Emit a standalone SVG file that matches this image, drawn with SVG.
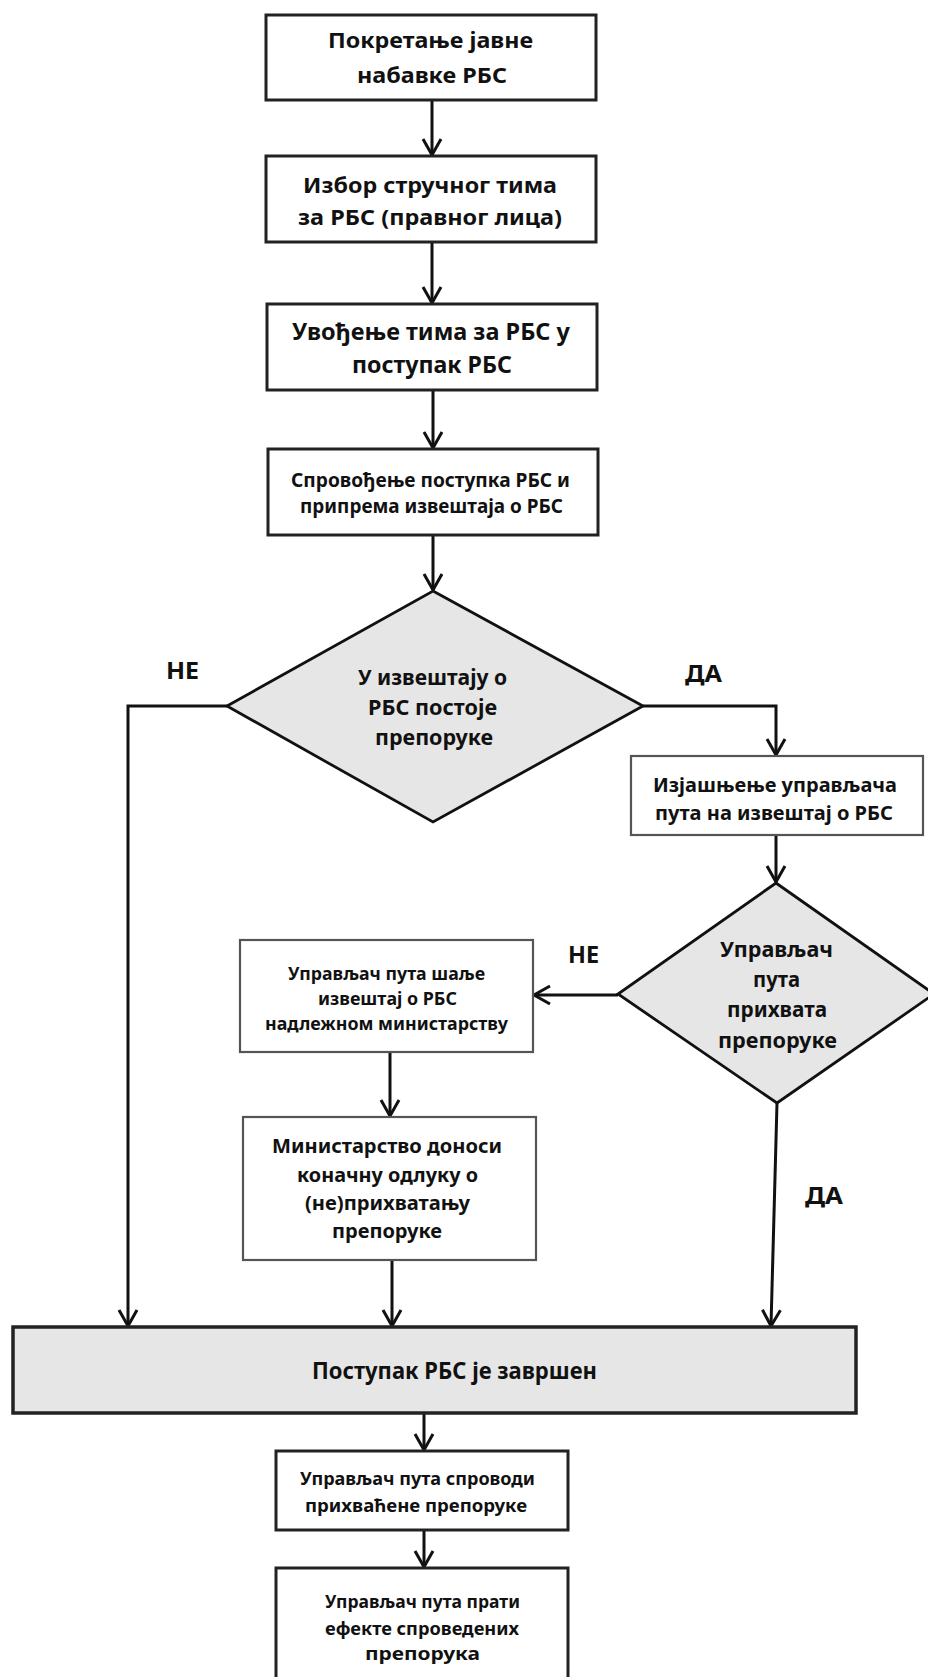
<svg xmlns="http://www.w3.org/2000/svg" width="928" height="1677" viewBox="0 0 928 1677">
<style>
.box{fill:#ffffff;stroke:#222222;stroke-width:3}
.boxl{fill:#ffffff;stroke:#555555;stroke-width:2.2}
.dia{fill:#e6e6e6;stroke:#111111;stroke-width:2.8;stroke-linejoin:miter}
.big{fill:#e6e6e6;stroke:#222222;stroke-width:3.5}
.con{fill:none;stroke:#111111;stroke-width:3;marker-end:url(#arr)}
text{font-family:"Noto Sans","Open Sans","DejaVu Sans",sans-serif;font-weight:bold;fill:#111111;text-anchor:middle}
</style>
<defs>
<marker id="arr" markerUnits="userSpaceOnUse" markerWidth="24" markerHeight="24" viewBox="-20 -12 24 24" refX="0" refY="0" orient="auto">
<path d="M-16,-9 L0,0 L-16,9" fill="none" stroke="#111111" stroke-width="3"/>
</marker>
</defs>
<rect width="928" height="1677" fill="#ffffff"/>
<g id="connectors">
<path class="con" d="M432,100 L432,155"/>
<path class="con" d="M432,242 L432,303"/>
<path class="con" d="M433,390 L433,448"/>
<path class="con" d="M433,535 L433,590"/>
<path class="con" d="M227,706 L128,706 L128,1326"/>
<path class="con" d="M643,706 L776,706 L776,755"/>
<path class="con" d="M776,835 L776,882"/>
<path class="con" d="M618,995 L534,995"/>
<path class="con" d="M777,1103 L771,1326"/>
<path class="con" d="M390,1052 L390,1116"/>
<path class="con" d="M392,1260 L392,1326"/>
<path class="con" d="M424,1413 L424,1450"/>
<path class="con" d="M424,1530 L424,1567"/>
</g>
<g id="n1">
<rect class="box" x="266" y="15" width="330" height="85"/>
<text x="430.5" y="48" font-size="22" textLength="205" lengthAdjust="spacingAndGlyphs">Покретање јавне</text>
<text x="432" y="83" font-size="22" textLength="150" lengthAdjust="spacingAndGlyphs">набавке РБС</text>
</g>
<g id="n2">
<rect class="box" x="266" y="156" width="330" height="86"/>
<text x="430" y="193" font-size="22" textLength="254" lengthAdjust="spacingAndGlyphs">Избор стручног тима</text>
<text x="430" y="225" font-size="22" textLength="264" lengthAdjust="spacingAndGlyphs">за РБС (правног лица)</text>
</g>
<g id="n3">
<rect class="box" x="267" y="304" width="330" height="86"/>
<text x="431" y="340" font-size="23" textLength="278" lengthAdjust="spacingAndGlyphs">Увођење тима за РБС у</text>
<text x="432" y="373" font-size="23" textLength="160" lengthAdjust="spacingAndGlyphs">поступак РБС</text>
</g>
<g id="n4">
<rect class="box" x="268" y="449" width="330" height="86"/>
<text x="430.5" y="487" font-size="19" textLength="279" lengthAdjust="spacingAndGlyphs">Спровођење поступка РБС и</text>
<text x="431.5" y="513" font-size="19" textLength="263" lengthAdjust="spacingAndGlyphs">припрема извештаја о РБС</text>
</g>
<g id="d1">
<polygon class="dia" points="433,591 643,706 433,822 227,706"/>
<text x="432.5" y="685" font-size="21" textLength="149" lengthAdjust="spacingAndGlyphs">У извештају о</text>
<text x="432.5" y="715" font-size="21" textLength="129" lengthAdjust="spacingAndGlyphs">РБС постоје</text>
<text x="434" y="745" font-size="21" textLength="118" lengthAdjust="spacingAndGlyphs">препоруке</text>
</g>
<g id="n5">
<rect class="boxl" x="631" y="756" width="292" height="79"/>
<text x="775" y="792" font-size="20" textLength="244" lengthAdjust="spacingAndGlyphs">Изјашњење управљача</text>
<text x="774" y="820" font-size="20" textLength="238" lengthAdjust="spacingAndGlyphs">пута на извештај о РБС</text>
</g>
<g id="d2">
<polygon class="dia" points="776,883 934,994 777,1103 618,994"/>
<text x="776.5" y="957" font-size="21" textLength="113" lengthAdjust="spacingAndGlyphs">Управљач</text>
<text x="776.5" y="987" font-size="21" textLength="47" lengthAdjust="spacingAndGlyphs">пута</text>
<text x="777" y="1017" font-size="21" textLength="100" lengthAdjust="spacingAndGlyphs">прихвата</text>
<text x="777.5" y="1048" font-size="21" textLength="119" lengthAdjust="spacingAndGlyphs">препоруке</text>
</g>
<g id="n6">
<rect class="boxl" x="240" y="940" width="293" height="112"/>
<text x="386.5" y="980" font-size="18" textLength="197" lengthAdjust="spacingAndGlyphs">Управљач  пута шаље</text>
<text x="387.5" y="1005" font-size="18" textLength="139" lengthAdjust="spacingAndGlyphs">извештај о РБС</text>
<text x="386.5" y="1030" font-size="18" textLength="243" lengthAdjust="spacingAndGlyphs">надлежном министарству</text>
</g>
<g id="n7">
<rect class="boxl" x="243" y="1117" width="293" height="143"/>
<text x="387" y="1153" font-size="20" textLength="230" lengthAdjust="spacingAndGlyphs">Министарство доноси</text>
<text x="387.5" y="1182" font-size="20" textLength="181" lengthAdjust="spacingAndGlyphs">коначну одлуку о</text>
<text x="387.5" y="1210" font-size="20" textLength="165" lengthAdjust="spacingAndGlyphs">(не)прихватању</text>
<text x="387" y="1238" font-size="20" textLength="110" lengthAdjust="spacingAndGlyphs">препоруке</text>
</g>
<g id="n8">
<rect class="big" x="13" y="1327" width="843" height="86"/>
<text x="454.5" y="1379" font-size="23" textLength="285" lengthAdjust="spacingAndGlyphs">Поступак РБС је завршен</text>
</g>
<g id="n9">
<rect class="box" x="276" y="1451" width="292" height="79"/>
<text x="417.5" y="1485" font-size="18" textLength="235" lengthAdjust="spacingAndGlyphs">Управљач  пута спроводи</text>
<text x="416" y="1512" font-size="18" textLength="222" lengthAdjust="spacingAndGlyphs">прихваћене препоруке</text>
</g>
<g id="n10">
<rect class="box" x="276" y="1568" width="292" height="125"/>
<text x="422.5" y="1608" font-size="18" textLength="195" lengthAdjust="spacingAndGlyphs">Управљач  пута прати</text>
<text x="422" y="1635" font-size="18" textLength="194" lengthAdjust="spacingAndGlyphs">ефекте спроведених</text>
<text x="422.5" y="1660" font-size="18" textLength="115" lengthAdjust="spacingAndGlyphs">препорука</text>
</g>
<g id="labels">
<text x="182.5" y="679" font-size="24" textLength="33" lengthAdjust="spacingAndGlyphs">НЕ</text>
<text x="703.5" y="682" font-size="24" textLength="37" lengthAdjust="spacingAndGlyphs">ДА</text>
<text x="583.5" y="963" font-size="24" textLength="31" lengthAdjust="spacingAndGlyphs">НЕ</text>
<text x="824" y="1204" font-size="24" textLength="38" lengthAdjust="spacingAndGlyphs">ДА</text>
</g>
</svg>
